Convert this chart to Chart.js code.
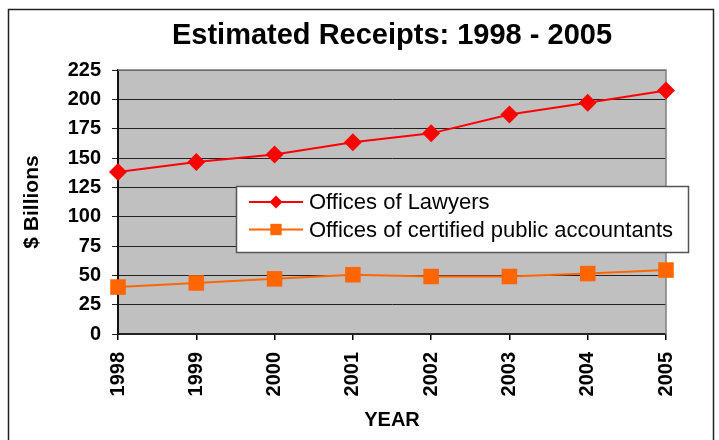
<!DOCTYPE html>
<html><head><meta charset="utf-8">
<script src="https://cdn.jsdelivr.net/npm/chart.js@4/dist/chart.umd.min.js"></script>
<style>html,body{margin:0;padding:0;background:#fff}canvas{display:block}</style>
</head><body>
<canvas id="c" width="719" height="440"></canvas>
<script>
const years = ['1998','1999','2000','2001','2002','2003','2004','2005'];
const lawyers = [138, 146.5, 153, 163.5, 171, 187, 197, 207.5];
const accountants = [40, 43.5, 47, 50.5, 49, 49, 51.5, 54.5];
const yTickValues = [0, 25, 50, 75, 100, 125, 150, 175, 200, 225];
const seriesNames = ['Offices of Lawyers', 'Offices of certified public accountants'];
const titleText = 'Estimated Receipts: 1998 - 2005';
const yTitle = '$ Billions';
const xTitle = 'YEAR';

const FONT = "'Liberation Sans', Arial, Helvetica, sans-serif";

function drawMarker(ctx, style, r, x, y, color) {
  ctx.save();
  ctx.fillStyle = color;
  ctx.beginPath();
  if (style === 'rectRot') {
    ctx.moveTo(x, y - r); ctx.lineTo(x + r, y); ctx.lineTo(x, y + r); ctx.lineTo(x - r, y);
  } else {
    const s = r * Math.SQRT1_2;
    ctx.rect(x - s, y - s, 2 * s, 2 * s);
  }
  ctx.closePath();
  ctx.fill();
  ctx.restore();
}

const framePlugin = {
  id: 'frame',
  beforeDraw(chart) {
    const ctx = chart.ctx, ca = chart.chartArea;
    ctx.save();
    ctx.fillStyle = '#ffffff';
    ctx.fillRect(0, 0, chart.width, chart.height);
    ctx.strokeStyle = '#222';
    ctx.lineWidth = 1.5;
    ctx.strokeRect(8.5, 9.5, 705, 460);
    ctx.fillStyle = '#C0C0C0';
    ctx.fillRect(ca.left, ca.top, ca.right - ca.left, ca.bottom - ca.top);
    // chart title, centred over the plot area
    ctx.fillStyle = '#000';
    ctx.font = 'bold 29px ' + FONT;
    ctx.textAlign = 'center';
    ctx.textBaseline = 'middle';
    ctx.fillText(titleText, (ca.left + ca.right) / 2, 36);
    ctx.restore();
  },
  beforeDatasetsDraw(chart) {
    const ctx = chart.ctx, ca = chart.chartArea;
    ctx.save();
    ctx.strokeStyle = '#808080';
    ctx.lineWidth = 1.5;
    ctx.beginPath();
    ctx.moveTo(ca.left, ca.top);
    ctx.lineTo(ca.right, ca.top);
    ctx.lineTo(ca.right, ca.bottom);
    ctx.stroke();
    ctx.restore();
  },
  afterDraw(chart) {
    const ctx = chart.ctx, ca = chart.chartArea;
    const x0 = ca.left + 118, y0 = ca.top + 116, w = 452, h = 66;
    ctx.save();
    ctx.fillStyle = '#ffffff';
    ctx.fillRect(x0, y0, w, h);
    ctx.strokeStyle = '#555';
    ctx.lineWidth = 1.5;
    ctx.strokeRect(x0 + 0.5, y0 + 0.5, w, h);
    chart.data.datasets.forEach((ds, i) => {
      const y = y0 + 16 + i * 27.5;
      ctx.strokeStyle = ds.borderColor;
      ctx.lineWidth = 2;
      ctx.beginPath();
      ctx.moveTo(x0 + 13, y);
      ctx.lineTo(x0 + 67, y);
      ctx.stroke();
      drawMarker(ctx, ds.pointStyle, ds.pointStyle === 'rectRot' ? 6.5 : 8, x0 + 40, y, ds.backgroundColor);
      ctx.fillStyle = '#000';
      ctx.font = '22px ' + FONT;
      ctx.textBaseline = 'middle';
      ctx.textAlign = 'left';
      ctx.fillText(ds.label, x0 + 73, y + 1);
    });
    ctx.restore();
  }
};

new Chart(document.getElementById('c'), {
  type: 'line',
  data: {
    labels: years,
    datasets: [
      {
        label: seriesNames[0],
        data: lawyers,
        borderColor: '#FF0000',
        backgroundColor: '#FF0000',
        borderWidth: 2,
        pointStyle: 'rectRot',
        pointRadius: 9,
        pointHoverRadius: 9,
        pointBorderWidth: 0,
        tension: 0,
        clip: false
      },
      {
        label: seriesNames[1],
        data: accountants,
        borderColor: '#FF6600',
        backgroundColor: '#FF6600',
        borderWidth: 2,
        pointStyle: 'rect',
        pointRadius: 11,
        pointHoverRadius: 11,
        pointBorderWidth: 0,
        tension: 0,
        clip: false
      }
    ]
  },
  options: {
    responsive: false,
    animation: false,
    devicePixelRatio: 1,
    layout: { padding: { top: 70, left: 0, right: 53, bottom: 0 } },
    plugins: {
      legend: { display: false },
      tooltip: { enabled: false },
      title: { display: false }
    },
    scales: {
      x: {
        type: 'category',
        offset: false,
        grid: { drawOnChartArea: false, color: '#000', tickLength: 6, lineWidth: 1.5 },
        border: { color: '#222', width: 2 },
        ticks: {
          color: '#000',
          font: { family: FONT, size: 20, weight: 'bold' },
          minRotation: 90, maxRotation: 90,
          padding: 12, autoSkip: false
        },
        title: {
          display: true, text: xTitle, color: '#000',
          font: { family: FONT, size: 20, weight: 'bold' },
          padding: { top: 0, bottom: 8 }
        },
        afterFit(scale) { scale.height = 106; }
      },
      y: {
        min: yTickValues[0],
        max: yTickValues[yTickValues.length - 1],
        afterBuildTicks(scale) { scale.ticks = yTickValues.map(v => ({ value: v })); },
        grid: { color: '#222', tickLength: 6, lineWidth: 1 },
        border: { color: '#111', width: 2 },
        ticks: {
          color: '#000',
          font: { family: FONT, size: 20, weight: 'bold' },
          padding: 11
        },
        title: {
          display: true, text: yTitle, color: '#000',
          font: { family: FONT, size: 21, weight: 'bold' },
          padding: { top: 20, bottom: 0 }
        },
        afterFit(scale) { scale.width = 118; }
      }
    }
  },
  plugins: [framePlugin]
});
</script>
</body></html>
